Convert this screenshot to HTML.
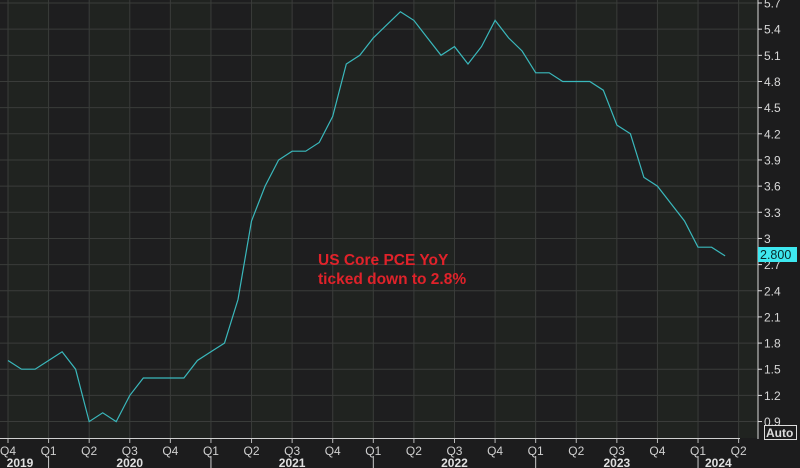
<!DOCTYPE html>
<html><head><meta charset="utf-8"><style>
html,body{margin:0;padding:0;background:#1c1c1d;}
svg{display:block;font-family:"Liberation Sans",sans-serif;}
</style></head><body>
<svg id="chart" width="800" height="468" viewBox="0 0 800 468" xmlns="http://www.w3.org/2000/svg">
<rect x="0" y="0" width="800" height="468" fill="#1c1c1d"/>
<g id="bands"></g><g id="grid"></g>
<polyline id="series" fill="none" stroke="#3ab8bc" stroke-width="1.2"/>
<line x1="758" y1="0" x2="758" y2="439" stroke="#d8d8d8" stroke-width="1"/>
<line x1="0" y1="438.5" x2="740" y2="438.5" stroke="#cfcfcf" stroke-width="1"/>
<g id="yticks"></g><g id="xticks"></g>
<rect x="758" y="247" width="39" height="15" fill="#3ee8f0"/>
<text x="760" y="259" font-size="12.5" fill="#0a2a2a">2.800</text>
<rect x="764.5" y="425.5" width="32" height="14" fill="none" stroke="#ddd"/>
<text x="766" y="437" font-size="12" font-weight="bold" fill="#ddd">Auto</text>
<text x="318" y="265" font-size="15.5" font-weight="bold" fill="#e0222a">US Core PCE YoY</text>
<text x="318" y="284" font-size="15.5" font-weight="bold" fill="#e0222a">ticked down to 2.8%</text>
</svg>
<script>
const values=[1.6,1.5,1.5,1.6,1.7,1.5,0.9,1.0,0.9,1.2,1.4,1.4,1.4,1.4,1.6,1.7,1.8,2.3,3.2,3.6,3.9,4.0,4.0,4.1,4.4,5.0,5.1,5.3,5.45,5.6,5.5,5.3,5.1,5.2,5.0,5.2,5.5,5.3,5.15,4.9,4.9,4.8,4.8,4.8,4.7,4.3,4.2,3.7,3.6,3.4,3.2,2.9,2.9,2.8];
const yTicks=[0.9,1.2,1.5,1.8,2.1,2.4,2.7,3,3.3,3.6,3.9,4.2,4.5,4.8,5.1,5.4,5.7];
const quarterLabels=["Q4","Q1","Q2","Q3","Q4","Q1","Q2","Q3","Q4","Q1","Q2","Q3","Q4","Q1","Q2","Q3","Q4","Q1","Q2"];
const yearLabels=["2019","2020","2021","2022","2023","2024"];
const NS="http://www.w3.org/2000/svg";
function yScale(v){return 3+(5.7-v)*87.2;}
function xScale(i){return 8+i*13.53;}
function qx(q){return xScale(q*3);}
function mk(t,a,p){const e=document.createElementNS(NS,t);for(const k in a)e.setAttribute(k,a[k]);p.appendChild(e);return e;}
const bands=document.getElementById('bands'),grid=document.getElementById('grid');
for(let q=-1;q<quarterLabels.length;q++){
  const x0=Math.max(0,q<0?0:qx(q)),x1=Math.min(758,qx(q+1));
  const b=mk('rect',{x:x0,y:0,width:Math.max(0,x1-x0),height:438,fill:(q%2===0)?'#202320':'#1e1e1f'},bands);
  
  
}
quarterLabels.forEach((l,q)=>{
  const x=qx(q);
  if(x<758){const g=mk('line',{x1:x,y1:0,x2:x,y2:438,stroke:'#3a3c3a','stroke-width':1},grid);
  
  }
});
yTicks.forEach(v=>{
  const y=yScale(v);
  const g=mk('line',{x1:0,y1:y,x2:758,y2:y,stroke:'#3a3c3a','stroke-width':1},grid);
  
  
  const t=mk('line',{x1:758,y1:y,x2:762,y2:y,stroke:'#ddd'},document.getElementById('yticks'));
  
  
  const tx=mk('text',{x:764,y:y+4.5,'font-size':12,fill:'#d8d8d8'},document.getElementById('yticks'));
  tx.textContent=String(v);
  
  
});
const xt=document.getElementById('xticks');
quarterLabels.forEach((l,q)=>{
  const x=qx(q);
  const t=mk('text',{x:x,y:455,'font-size':12,fill:'#d0d0d0','text-anchor':'middle'},xt);
  t.textContent=l;
  
  
  const tk=mk('line',{x1:x,y1:439,x2:x,y2:443,stroke:'#bbb'},xt);
  
  
});
yearLabels.forEach((y,i)=>{
  const start=i===0?-1:(i*4-3);
  let cx=i===0?20:qx(start+2);
  if(i===5) cx=(qx(17)+qx(18))/2;
  const t=mk('text',{x:cx,y:467,'font-size':12,'font-weight':'bold',fill:'#e0e0e0','text-anchor':'middle'},xt);
  t.textContent=y;
  
  
  if(i>0){const s=mk('line',{x1:qx(start),y1:456,x2:qx(start),y2:468,stroke:'#ccc'},xt);
  
  }
});
document.getElementById('series').setAttribute('points',values.map((v,i)=>xScale(i).toFixed(1)+','+yScale(v).toFixed(1)).join(' '));
</script>
</body></html>
